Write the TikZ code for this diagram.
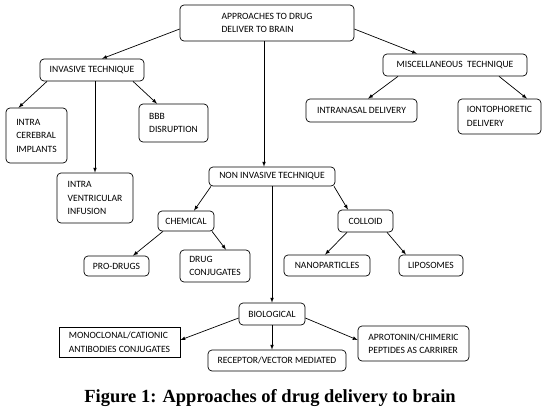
\documentclass[tikz,border=0pt]{standalone}
\usepackage{fontspec}
\setmainfont{Carlito}
\newfontfamily\capfont{Liberation Serif}
\usepackage{tikz}

\begin{document}
\begin{tikzpicture}[x = 1pt, y = -1pt, line width = 0.7pt, >=latex,
    box/.style = {draw, rounded corners = 4pt, align = left, inner sep = 0pt,
        font = \fontsize{9.6}{13.5}\selectfont},
    sqbox/.style = {box, sharp corners}]
\useasboundingbox (0,0) rectangle (545,416);
\draw (267,23) node[box, minimum width = 174pt, minimum height = 36pt](root){APPROACHES TO DRUG\\DELIVER TO BRAIN}
    (92,70) node[box, minimum width = 104pt, minimum height = 22pt](inv){INVASIVE TECHNIQUE}
    (36.5,135.5) node[box, minimum width = 61pt, minimum height = 55pt](icer){INTRA\\CEREBRAL\\IMPLANTS}
    (173.5,123) node[box, minimum width = 69pt, minimum height = 38pt](bbb){BBB\\DISRUPTION}
    (95,198) node[box, minimum width = 76pt, minimum height = 50pt](iven){INTRA\\VENTRICULAR\\INFUSION}
    (455,65) node[box, minimum width = 144pt, minimum height = 22pt](misc){MISCELLANEOUS\ \ TECHNIQUE}
    (361.5,110.5) node[box, minimum width = 111pt, minimum height = 23pt](nasal){INTRANASAL DELIVERY}
    (499.5,116.5) node[box, minimum width = 83pt, minimum height = 35pt](ionto){IONTOPHORETIC\\DELIVERY}
    (272,176.5) node[box, minimum width = 126pt, minimum height = 19pt](noninv){NON INVASIVE TECHNIQUE}
    (186,221) node[box, minimum width = 56pt, minimum height = 20pt](chem){CHEMICAL}
    (116.5,266) node[box, minimum width = 65pt, minimum height = 20pt](pro){PRO-DRUGS}
    (215,266) node[box, minimum width = 70pt, minimum height = 32pt](dconj){DRUG\\CONJUGATES}
    (365.5,221) node[box, minimum width = 55pt, minimum height = 22pt](coll){COLLOID}
    (327,265.5) node[box, minimum width = 86pt, minimum height = 21pt](nano){NANOPARTICLES}
    (431,265.5) node[box, minimum width = 64pt, minimum height = 21pt](lipo){LIPOSOMES}
    (272,314) node[box, minimum width = 66pt, minimum height = 22pt](bio){BIOLOGICAL}
    (119.5,342) node[sqbox, minimum width = 121pt, minimum height = 30pt](mono){MONOCLONAL/CATIONIC\\ANTIBODIES CONJUGATES}
    (277,360.5) node[box, minimum width = 138pt, minimum height = 21pt](rec){RECEPTOR/VECTOR MEDIATED}
    (413.5,343.5) node[box, minimum width = 111pt, minimum height = 35pt](apro){APROTONIN/CHIMERIC\\PEPTIDES AS CARRIRER};

    \path[->] ([yshift = -6pt]root.west) edge ([xshift = 10pt]inv.north);
    \path[->] ([xshift = -3pt]root.south) edge ([xshift = -8pt]noninv.north);
    \path[->] ([yshift = -6pt]root.east) edge ([xshift = -38pt]misc.north);

    \path[->] ([xshift = -45pt]inv.south) edge ([xshift = -18pt]icer.north);
    \path[->] (iven.north |- inv.south) edge (iven.north);
    \path[->] ([xshift = 41pt]inv.south) edge ([xshift = -16.5pt]bbb.north);

    \path[->] ([xshift = -57pt]misc.south) edge ([xshift = 6.5pt]nasal.north);
    \path[->] ([xshift = 44pt]misc.south) edge ([xshift = 27.5pt]ionto.north);

    \path[->] ([xshift = -61pt]noninv.south) edge ([xshift = 8pt]chem.north);
    \path[->] (noninv.south) edge (bio.north);
    \path[->] ([xshift = 62pt]noninv.south) edge ([xshift = -17.5pt]coll.north);

    \path[->] ([xshift = -23pt]chem.south) edge ([xshift = 16.5pt]pro.north);
    \path[->] ([xshift = 26pt]chem.south) edge ([xshift = 11pt]dconj.north);

    \path[->] ([xshift = -18.5pt]coll.south) edge ([xshift = -2pt]nano.north);
    \path[->] ([xshift = 21.5pt]coll.south) edge ([xshift = -25pt]lipo.north);

    \path[->] ([yshift = -4pt]bio.west) edge ([yshift = 2pt]mono.east);
    \path[->] (bio.south) edge (bio.south |- rec.north);
    \path[->] ([yshift = -4pt]bio.east) edge ([yshift = 3.5pt]apro.west);

\node[font = \capfont\bfseries\fontsize{18.5}{22}\selectfont] (cap) at (270,398) {Figure 1: Approaches of drug delivery to brain};
\end{tikzpicture}
\end{document}
